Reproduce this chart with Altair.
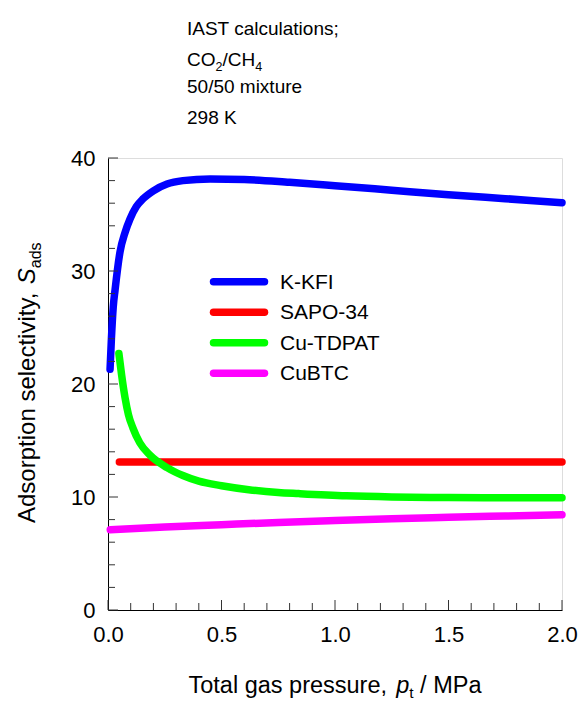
import altair as alt
import pandas as pd

FONT = "Liberation Sans"

series_names = ["K-KFI", "SAPO-34", "Cu-TDPAT", "CuBTC"]
series_colors = ["#0000ff", "#ff0000", "#00ff00", "#ff00ff"]

kkfi_p = [0.009, 0.015, 0.023, 0.031, 0.053, 0.075, 0.097, 0.125, 0.155, 0.2, 0.26, 0.33, 0.45, 0.6, 0.8, 1.0, 1.25, 1.5, 1.75, 2.0]
kkfi_s = [21.3, 24.0, 26.8, 28.3, 31.7, 33.4, 34.6, 35.7, 36.4, 37.1, 37.7, 38.0, 38.15, 38.1, 37.85, 37.55, 37.15, 36.75, 36.4, 36.05]

sapo_p = [0.05, 0.5, 1.0, 1.5, 2.0]
sapo_s = [13.1, 13.1, 13.1, 13.1, 13.1]

tdpat_p = [0.048, 0.06, 0.075, 0.09, 0.11, 0.14, 0.185, 0.26, 0.33, 0.40, 0.5, 0.62, 0.75, 0.84, 1.05, 1.25, 1.5, 1.75, 2.0]
tdpat_s = [22.7, 20.8, 18.8, 17.3, 16.1, 14.8, 13.7, 12.6, 11.9, 11.4, 11.0, 10.65, 10.4, 10.3, 10.1, 10.0, 9.95, 9.93, 9.93]

cubtc_p = [0.01, 0.25, 0.5, 0.75, 1.0, 1.25, 1.5, 1.75, 2.0]
cubtc_s = [7.1, 7.35, 7.55, 7.75, 7.92, 8.07, 8.2, 8.32, 8.43]

x_major_ticks = [0.0, 0.5, 1.0, 1.5, 2.0]
x_minor_ticks = [0.1, 0.2, 0.3, 0.4, 0.6, 0.7, 0.8, 0.9, 1.1, 1.2, 1.3, 1.4, 1.6, 1.7, 1.8, 1.9]
y_major_ticks = [0, 10, 20, 30, 40]
y_minor_ticks = [2, 4, 6, 8, 12, 14, 16, 18, 22, 24, 26, 28, 32, 34, 36, 38]

W, H = 454, 452

xscale = alt.Scale(domain=[0, 2], nice=False, zero=False)
yscale = alt.Scale(domain=[0, 40], nice=False, zero=False)

xaxis = alt.Axis(values=x_major_ticks, format=".1f", title=None, ticks=False, tickSize=0,
                 grid=False, labelFontSize=22, labelFont=FONT, labelColor="black",
                 labelPadding=14, domainColor="black", domainWidth=1, labelFlush=False)
yaxis = alt.Axis(values=y_major_ticks, format="d", title=None, ticks=False, tickSize=0,
                 grid=False, labelFontSize=22, labelFont=FONT, labelColor="black",
                 labelPadding=13, domainColor="black", domainWidth=1, labelFlush=False)

series = [
    (kkfi_p, kkfi_s),
    (sapo_p, sapo_s),
    (tdpat_p, tdpat_s),
    (cubtc_p, cubtc_s),
]

layers = []
# draw order: SAPO-34, CuBTC, K-KFI, Cu-TDPAT
for idx in [1, 3, 0, 2]:
    p, s = series[idx]
    df = pd.DataFrame({"p": p, "s": s, "name": series_names[idx]})
    layers.append(
        alt.Chart(df).mark_line(color=series_colors[idx], strokeWidth=7.5, strokeCap="round",
                                strokeJoin="round", interpolate="monotone", clip=False)
        .encode(x=alt.X("p:Q", scale=xscale, axis=xaxis),
                y=alt.Y("s:Q", scale=yscale, axis=yaxis))
    )

TICK_COLOR = "#333333"
# x ticks (inward)
layers.append(
    alt.Chart(pd.DataFrame({"p": x_major_ticks})).mark_rule(color=TICK_COLOR, strokeWidth=1)
    .encode(x=alt.X("p:Q", scale=xscale, axis=xaxis), y=alt.value(H), y2=alt.value(H - 10))
)
layers.append(
    alt.Chart(pd.DataFrame({"p": x_minor_ticks})).mark_rule(color=TICK_COLOR, strokeWidth=1)
    .encode(x=alt.X("p:Q", scale=xscale, axis=xaxis), y=alt.value(H), y2=alt.value(H - 7))
)
layers.append(
    alt.Chart(pd.DataFrame({"s": y_major_ticks})).mark_rule(color=TICK_COLOR, strokeWidth=1)
    .encode(y=alt.Y("s:Q", scale=yscale, axis=yaxis), x=alt.value(0), x2=alt.value(10))
)
layers.append(
    alt.Chart(pd.DataFrame({"s": y_minor_ticks})).mark_rule(color=TICK_COLOR, strokeWidth=1)
    .encode(y=alt.Y("s:Q", scale=yscale, axis=yaxis), x=alt.value(0), x2=alt.value(7))
)


def txt(s, x, y, size, style="normal", angle=0, align="left"):
    return (alt.Chart(pd.DataFrame({"t": [s]}))
            .mark_text(align=align, baseline="alphabetic", fontSize=size, font=FONT,
                       fontStyle=style, angle=angle, color="black")
            .encode(x=alt.value(x), y=alt.value(y), text="t:N"))


# legend
for i, name in enumerate(series_names):
    ry = 123.7 + i * 30.5
    layers.append(
        alt.Chart(pd.DataFrame({"name": [name]}))
        .mark_rule(color=series_colors[i], strokeWidth=7.5, strokeCap="round")
        .encode(x=alt.value(105.5), x2=alt.value(156.5), y=alt.value(ry))
    )
    layers.append(
        alt.Chart(pd.DataFrame({"t": [name]}))
        .mark_text(align="left", baseline="middle", fontSize=21, font=FONT, color="black")
        .encode(x=alt.value(172), y=alt.value(ry + 1), text="t:N")
    )

# annotation (top-left)
AX = 79
AF = 19
layers.append(txt("IAST calculations;", AX, -123, AF))
layers.append(txt("CO", AX, -92, AF))
layers.append(txt("2", AX + 28.5, -87, 12.5))
layers.append(txt("/CH", AX + 35.5, -92, AF))
layers.append(txt("4", AX + 35.5 + 32.7, -87, 12.5))
layers.append(txt("50/50 mixture", AX, -65, AF))
layers.append(txt("298 K", AX, -34, AF))

# x-axis title
XF = 23.5
x0 = 80.5
layers.append(txt("Total gas pressure,", x0, 535, XF))
layers.append(txt("p", x0 + 207.7, 535, XF, style="italic"))
layers.append(txt("t", x0 + 207.7 + 13.1, 540, 15.5))
layers.append(txt("/ MPa", x0 + 207.7 + 13.1 + 4.3 + 6.5, 535, XF))

# y-axis title (rotated)
YF = 24
yx = -73
yy = 365
layers.append(txt("Adsorption selectivity,", yx, yy, YF, angle=270))
layers.append(txt("S", yx, yy - 238.75, YF, style="italic", angle=270))
layers.append(txt("ads", yx + 6, yy - 238.75 - 16.0, 16, angle=270))

chart = alt.layer(*layers).properties(
    width=W, height=H,
    autosize=alt.AutoSizeParams(type="none"),
    padding={"left": 108, "top": 158, "right": 21, "bottom": 94},
).configure_view(stroke=None).configure(background="white")

chart.save("out.html", embed_options={"renderer": "svg", "actions": False})
